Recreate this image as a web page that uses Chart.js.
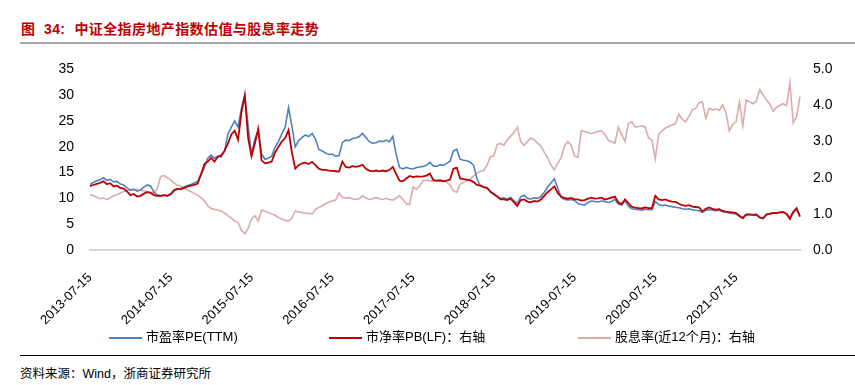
<!DOCTYPE html>
<html>
<head>
<meta charset="utf-8">
<script src="https://cdn.jsdelivr.net/npm/chart.js@4.4.0/dist/chart.umd.min.js"></script>
<style>
  body { margin: 0; background: #fff; width: 855px; height: 385px; position: relative; overflow: hidden;
         font-family: "Liberation Sans", "Noto Sans CJK SC", sans-serif; color: #000; }
  #title { position: absolute; left: 21px; top: 18px; font-size: 14px; font-weight: bold; color: #c00000;
           letter-spacing: 0.4px; white-space: nowrap; }
  #title b { display: inline-block; width: 9px; }
  #rule1 { position: absolute; left: 20px; top: 42px; width: 835px; height: 2px; background: #a6a6a6; }
  #wrap { position: absolute; left: 0; top: 45px; width: 855px; height: 285px; }
  .leg { position: absolute; top: 328px; font-size: 13px; white-space: nowrap; line-height: 18px; }
  .leg i { display: inline-block; width: 33px; height: 2px; vertical-align: middle; margin-right: 4px; }
  #rule2 { position: absolute; left: 20px; top: 355px; width: 835px; height: 1px; background: #000; }
  #src { position: absolute; left: 20px; top: 363px; font-size: 12.5px; white-space: nowrap; }
</style>
</head>
<body>
<div id="title">图&nbsp;&nbsp;34:<b></b>中证全指房地产指数估值与股息率走势</div>
<div id="rule1"></div>
<div id="wrap"><canvas id="chart" width="855" height="285"></canvas></div>
<div class="leg" style="left:109px"><i style="background:#4f81bd"></i>市盈率PE(TTM)</div>
<div class="leg" style="left:329px"><i style="background:#c00000"></i>市净率PB(LF)：右轴</div>
<div class="leg" style="left:578px"><i style="background:#dcaaa9"></i>股息率(近12个月)：右轴</div>
<div id="rule2"></div>
<div id="src">资料来源：Wind，浙商证券研究所</div>
<script>
// half-monthly dates from 2013-07-15
const dates = [];
for (let i = 0; i < 212; i++) {
  const m = 6 + Math.ceil(i / 2);
  const y = 2013 + Math.floor(m / 12);
  const mm = String(m % 12 + 1).padStart(2, '0');
  dates.push(y + '-' + mm + '-' + (i % 2 === 0 ? '15' : '01'));
}

const peTTM = [
  12.7,13.1,13.4,13.6,14.0,13.5,13.7,13.2,13.3,12.8,
  12.6,12.0,11.6,11.8,11.4,11.6,12.2,12.6,12.4,11.2,
  10.7,10.5,10.6,10.5,10.8,11.4,11.8,11.9,12.2,12.5,
  12.7,13.0,13.3,14.6,16.0,17.8,18.4,17.8,18.2,18.0,
  19.2,22.5,23.8,25.0,23.8,27.5,29.8,24.0,18.5,21.5,
  23.2,18.6,17.6,17.8,18.2,19.9,21.0,22.5,23.8,27.6,
  24.0,20.0,21.2,21.8,22.3,22.0,22.6,21.5,19.5,19.2,
  18.8,18.5,18.6,18.2,18.3,20.8,21.3,21.2,21.6,21.7,
  22.0,22.6,21.8,21.0,20.7,20.8,21.1,21.0,21.3,21.0,
  22.0,18.5,16.0,15.7,16.0,15.8,15.7,16.0,16.1,16.2,
  16.4,17.0,16.3,16.2,16.5,16.4,16.8,17.2,19.2,19.5,
  17.6,17.4,17.3,17.0,16.4,13.8,12.5,12.2,12.0,11.2,
  10.8,10.4,10.0,10.1,9.9,10.2,9.6,9.0,10.3,10.6,
  10.0,9.9,10.1,10.0,10.4,11.2,12.2,13.0,13.8,12.0,
  10.2,9.8,9.7,9.8,9.6,9.0,8.8,8.7,9.2,9.5,
  9.4,9.3,9.5,9.4,9.2,9.4,9.8,8.9,8.7,9.6,
  8.5,8.0,7.9,7.8,7.7,7.9,7.8,7.8,9.4,8.8,
  8.6,8.7,8.5,8.4,8.3,8.2,8.0,7.9,8.0,7.8,
  7.7,7.6,7.3,7.7,7.8,7.7,7.6,7.7,7.4,7.3,
  7.2,7.1,7.0,6.5,6.3,6.9,6.9,6.8,6.9,6.4,
  6.2,6.9,7.0,7.2,7.1,7.3,7.4,7.0,6.3,7.4,
  8.2,6.6
];

const pbLF = [
  1.77,1.80,1.83,1.86,1.90,1.82,1.85,1.76,1.78,1.72,
  1.70,1.62,1.52,1.55,1.48,1.50,1.56,1.60,1.58,1.52,
  1.50,1.50,1.52,1.50,1.55,1.66,1.70,1.68,1.72,1.76,
  1.78,1.80,1.84,2.10,2.38,2.45,2.55,2.45,2.58,2.62,
  2.75,2.95,3.20,3.30,3.05,3.80,4.29,3.10,2.60,2.95,
  3.35,2.48,2.40,2.42,2.45,2.70,2.85,3.00,3.10,3.32,
  2.70,2.25,2.35,2.40,2.42,2.38,2.44,2.35,2.25,2.22,
  2.22,2.20,2.19,2.18,2.17,2.45,2.30,2.28,2.32,2.30,
  2.32,2.36,2.25,2.20,2.18,2.20,2.18,2.20,2.18,2.22,
  2.30,2.10,1.92,1.90,1.98,2.05,2.02,2.04,2.03,2.04,
  2.06,2.12,1.94,1.92,1.93,1.90,1.92,1.95,2.25,2.28,
  1.98,1.96,1.95,1.93,1.88,1.80,1.78,1.74,1.72,1.62,
  1.55,1.48,1.40,1.40,1.38,1.42,1.32,1.22,1.38,1.40,
  1.34,1.32,1.36,1.34,1.40,1.50,1.60,1.68,1.76,1.58,
  1.48,1.44,1.42,1.44,1.40,1.40,1.37,1.38,1.42,1.45,
  1.42,1.43,1.45,1.40,1.42,1.45,1.48,1.32,1.27,1.40,
  1.30,1.20,1.17,1.16,1.15,1.18,1.16,1.16,1.50,1.40,
  1.38,1.40,1.36,1.34,1.33,1.28,1.24,1.22,1.24,1.20,
  1.19,1.18,1.07,1.14,1.18,1.14,1.12,1.13,1.08,1.06,
  1.05,1.04,1.02,0.95,0.88,0.98,0.98,0.97,0.98,0.90,
  0.87,0.98,1.00,1.03,1.02,1.04,1.05,1.00,0.86,1.05,
  1.14,0.92
];

const divYield = [
  1.53,1.50,1.46,1.42,1.44,1.40,1.44,1.50,1.53,1.58,
  1.62,1.64,1.68,1.66,1.68,1.65,1.64,1.62,1.60,1.58,
  1.70,2.04,2.06,2.00,1.94,1.85,1.80,1.76,1.72,1.66,
  1.62,1.56,1.52,1.45,1.36,1.22,1.15,1.13,1.10,1.08,
  1.02,0.95,0.88,0.80,0.76,0.55,0.45,0.60,0.85,0.95,
  0.80,1.10,1.08,1.04,1.00,0.96,0.90,0.86,0.82,0.80,
  0.88,1.08,1.05,1.04,1.02,1.01,1.00,1.12,1.18,1.22,
  1.28,1.32,1.36,1.38,1.58,1.46,1.44,1.45,1.42,1.40,
  1.42,1.50,1.44,1.40,1.42,1.45,1.42,1.40,1.43,1.40,
  1.38,1.44,1.50,1.40,1.28,1.26,1.75,1.68,1.78,1.92,
  1.93,1.92,1.90,1.91,1.90,1.92,1.88,1.80,1.64,1.60,
  1.82,1.88,1.92,1.95,2.05,2.12,2.18,2.20,2.35,2.58,
  2.60,2.92,2.95,2.90,3.05,3.15,3.25,3.40,3.00,2.90,
  3.00,3.10,3.05,2.96,2.88,2.70,2.55,2.35,2.22,2.40,
  2.55,2.88,3.00,2.90,2.60,2.57,3.30,3.28,3.25,3.22,
  3.25,3.28,3.30,3.20,3.04,3.00,2.96,3.40,3.20,3.00,
  3.50,3.55,3.40,3.42,3.44,3.40,3.10,3.04,2.52,3.20,
  3.30,3.38,3.42,3.46,3.50,3.76,3.62,3.55,3.70,3.88,
  3.92,4.08,4.10,3.65,3.92,3.88,3.90,3.86,4.02,3.80,
  3.30,3.48,3.55,4.10,3.44,4.15,4.10,4.05,4.12,4.44,
  4.30,4.15,4.05,3.84,3.95,4.00,4.05,4.00,4.63,3.52,
  3.70,4.25
];

const tickFont = { family: '"Liberation Sans", Arial, sans-serif', size: 14 };

new Chart(document.getElementById('chart'), {
  type: 'line',
  data: {
    labels: dates,
    datasets: [
      { label: '市净率PB(LF)：右轴', data: pbLF, yAxisID: 'y1', borderColor: '#c00000', borderWidth: 1.8, order: 0 },
      { label: '市盈率PE(TTM)', data: peTTM, yAxisID: 'y', borderColor: '#4f81bd', borderWidth: 1.6, order: 1 },
      { label: '股息率(近12个月)：右轴', data: divYield, yAxisID: 'y1', borderColor: '#dcaaa9', borderWidth: 1.6, order: 2 }
    ]
  },
  options: {
    responsive: false,
    animation: false,
    devicePixelRatio: 1,
    layout: { padding: { top: 16, left: 0, right: 0, bottom: 0 } },
    elements: { point: { radius: 0 }, line: { tension: 0 } },
    plugins: { legend: { display: false }, tooltip: { enabled: false } },
    scales: {
      x: {
        grid: { display: false },
        border: { display: true, color: '#d9d9d9', width: 2 },
        ticks: {
          autoSkip: false, maxRotation: 45, minRotation: 45, padding: 12,
          color: '#000', font: { family: '"Liberation Sans", Arial, sans-serif', size: 13 },
          callback: function (v) {
            const l = this.getLabelForValue(v);
            return l.endsWith('-07-15') ? l : null;
          }
        },
        afterFit: s => { s.height = 80; }
      },
      y: {
        position: 'left', min: 0, max: 35,
        grid: { display: false, drawTicks: false },
        border: { display: false },
        ticks: { stepSize: 5, padding: 16, color: '#000', font: tickFont },
        afterFit: s => { s.width = 90; }
      },
      y1: {
        position: 'right', min: 0, max: 5,
        grid: { display: false, drawTicks: false },
        border: { display: false },
        ticks: { stepSize: 0.5, padding: 13, color: '#000', font: tickFont, callback: v => v.toFixed(1) },
        afterFit: s => { s.width = 55; }
      }
    }
  }
});
</script>
</body>
</html>
